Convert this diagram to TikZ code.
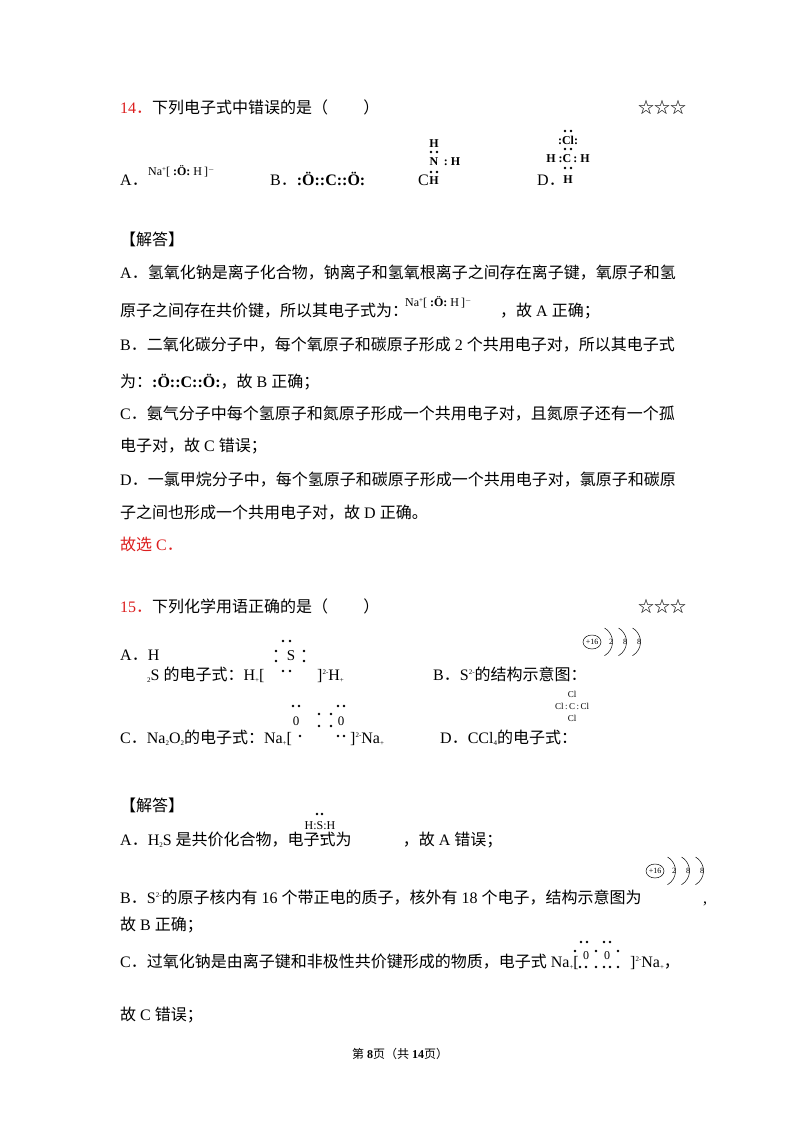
\documentclass[tikz,border=0pt]{standalone}
\usepackage{fontspec}
\setmainfont{Liberation Serif}
\newfontfamily\cjk{Noto Sans CJK SC}
\newcommand\zh[1]{{\cjk #1}}
\newcommand\pd{{\cjk ．}}
\newcommand\supx[1]{\raisebox{0.7ex}{\fontsize{7}{7}\selectfont #1}}
\newcommand\subx[1]{\raisebox{-0.3ex}{\fontsize{7}{7}\selectfont #1}}
\definecolor{qred}{RGB}{220,30,30}
\newcommand\atomdiag[2]{%
\begin{scope}[shift={(#1,#2)}]
\draw[line width=0.5pt] (0,0) ellipse (9 and 7);
\node[font=\fontsize{8}{8}\selectfont,inner sep=0] at (0,0) {+16};
\foreach \r/\n in {16/2,30/8,44/8}{
\draw[line width=0.5pt] (\r-3.5,-14) arc[start angle=-60,end angle=60,radius=16];
\node[font=\fontsize{8}{8}\selectfont,inner sep=0] at (\r+3,0) {\n};}
\end{scope}}
\newcommand\dt[2]{\fill (#1,#2) circle (1.3);}
\begin{document}
\begin{tikzpicture}[x=1pt,y=-1pt,
 t/.style={anchor=base west,inner sep=0,font=\fontsize{16}{16}\selectfont},
 s/.style={inner sep=0,font=\fontsize{12}{12}\selectfont}]
\useasboundingbox (0,0) rectangle (800,1132);
\fill[white] (0,0) rectangle (800,1132);
% Q14
\node[t] (q14) at (120,113) {\textcolor{qred}{14\pd}\zh{下列电子式中错误的是（\hspace{2.2em}）}};
\node[t] (st1) at (638,113) {\zh{☆☆☆}};
\node[t] (a) at (120,185) {A\pd};
\node[s,anchor=base west] (na1) at (148,175) {Na\supx{+}[\ \textbf{:\"O:}\ H\,]\supx{$-$}};
\node[t] (b) at (270,185) {B\pd\textbf{:\"O::C::\"O:}};
\node[t] (c) at (418,185) {C};
\node[s] (nh) at (434,144) {\textbf{H}};
\node[s] (nn) at (434,162) {\textbf{N}};
\node[s] (nr) at (452,162) {\textbf{:\ H}};
\node[s] (nb) at (434,181) {\textbf{H}};
\dt{431}{152}\dt{437}{152}\dt{431}{172}\dt{437}{172}
\node[t] (d) at (537,185) {D\pd};
\node[s] (ccl) at (568,140) {\textbf{:Cl:}};
\dt{565}{131}\dt{571}{131}\dt{565}{149}\dt{571}{149}
\node[s] (cc) at (568,159) {\textbf{H\ :C\,:\ H}};
\dt{565}{168}\dt{571}{168}
\node[s] (ch) at (568,180) {\textbf{H}};
% solution 14
\node[t] (j1) at (120,245) {\zh{【解答】}};
\node[t] (l1) at (120,278) {A\pd\zh{氢氧化钠是离子化合物，钠离子和氢氧根离子之间存在离子键，氧原子和氢}};
\node[t] (l2) at (120,316) {\zh{原子之间存在共价键，所以其电子式为：}};
\node[s,anchor=base west] (na2) at (405,306) {Na\supx{+}[\ \textbf{:\"O:}\ H\,]\supx{$-$}};
\node[t] (l2b) at (500,316) {\zh{，故} A \zh{正确；}};
\node[t] (l3) at (120,350) {B\pd\zh{二氧化碳分子中，每个氧原子和碳原子形成} 2 \zh{个共用电子对，所以其电子式}};
\node[t] (l4) at (120,387) {\zh{为：}\textbf{:\"O::C::\"O:}\zh{，故} B \zh{正确；}};
\node[t] (l5) at (120,419) {C\pd\zh{氨气分子中每个氢原子和氮原子形成一个共用电子对，且氮原子还有一个孤}};
\node[t] (l6) at (120,451) {\zh{电子对，故} C \zh{错误；}};
\node[t] (l7) at (120,485) {D\pd\zh{一氯甲烷分子中，每个氢原子和碳原子形成一个共用电子对，氯原子和碳原}};
\node[t] (l8) at (120,518) {\zh{子之间也形成一个共用电子对，故} D \zh{正确。}};
\node[t] (l9) at (120,550) {\textcolor{qred}{\zh{故选} C\pd}};
% Q15
\node[t] (q15) at (120,612) {\textcolor{qred}{15\pd}\zh{下列化学用语正确的是（\hspace{2.2em}）}};
\node[t] (st2) at (638,612) {\zh{☆☆☆}};
\node[t] (qa) at (120,660) {A\pd H};
\node[t] (qa2) at (147,680) {\subx{2}S \zh{的电子式：}H\subx{+}[};
\node[font=\fontsize{15}{15}\selectfont,inner sep=0] (sS) at (291,656) {S};
\dt{283}{641}\dt{290}{641}\dt{276}{651}\dt{276}{661}\dt{304}{651}\dt{304}{661}\dt{283}{671}\dt{290}{671}
\node[t] (qa3) at (317,680) {]\supx{2-}H\subx{+}};
\node[t] (qb) at (433,680) {B\pd S\supx{2-}\zh{的结构示意图：}};
\atomdiag{592}{642}
\node[t] (qc) at (120,743) {C\pd Na\subx{2}O\subx{2}\zh{的电子式：}Na\subx{+}[};
\node[font=\fontsize{13}{13}\selectfont,inner sep=0] (o1) at (296,721) {0};
\node[font=\fontsize{13}{13}\selectfont,inner sep=0] (o2) at (341,721) {0};
\dt{293}{706}\dt{299}{706}\dt{338}{706}\dt{344}{706}
\dt{319}{714}\dt{319}{726}\dt{331}{714}\dt{331}{726}\dt{300}{736}\dt{338}{736}\dt{344}{736}
\node[t] (qc2) at (350,743) {]\supx{2-}Na\subx{+}};
\node[t] (qd) at (440,743) {D\pd CCl\subx{4}\zh{的电子式：}};
\node[s,font=\fontsize{9}{9}\selectfont] (dcl1) at (572,694) {Cl};
\node[s,font=\fontsize{9}{9}\selectfont] (dcl2) at (572,706) {Cl\,:\,C\,:\,Cl};
\node[s,font=\fontsize{9}{9}\selectfont] (dcl3) at (572,718) {Cl};
% solution 15
\node[t] (j2) at (120,811) {\zh{【解答】}};
\node[s] (hsh) at (320,826) {H:S:H};
\dt{317}{814}\dt{322}{814}\dt{317}{836}\dt{322}{836}
\node[t] (m1) at (120,845) {A\pd H\subx{2}S \zh{是共价化合物，电子式为}\hspace{3.2em}\zh{，故} A \zh{错误；}};
\atomdiag{655}{871}
\node[t] (m2) at (120,903) {B\pd S\supx{2-}\zh{的原子核内有} 16 \zh{个带正电的质子，核外有} 18 \zh{个电子，结构示意图为}};
\node[t] (m2b) at (703,903) {,};
\node[t] (m3) at (120,930) {\zh{故} B \zh{正确；}};
\node[t] (m4) at (120,967) {C\pd\zh{过氧化钠是由离子键和非极性共价键形成的物质，电子式} Na\subx{+}[};
\begin{scope}[xshift=13]
\node[font=\fontsize{12}{12}\selectfont,inner sep=0] (p1) at (573,956) {0};
\node[font=\fontsize{12}{12}\selectfont,inner sep=0] (p2) at (594,956) {0};
\dt{568}{942}\dt{574}{942}\dt{591}{942}\dt{597}{942}
\dt{562}{951}\dt{583}{951}\dt{605}{951}\dt{567}{967}\dt{573}{967}\dt{583}{967}\dt{591}{967}\dt{597}{967}\dt{605}{967}
\end{scope}
\node[t] (m4b) at (630,967) {]\supx{2-}Na\subx{+}\zh{，}};
\node[t] (m5) at (120,1020) {\zh{故} C \zh{错误；}};
\node[anchor=base,inner sep=0,font=\fontsize{12}{12}\selectfont] (ft) at (400,1058) {\zh{第} \textbf{8}\zh{页（共} \textbf{14}\zh{页）}};
\end{tikzpicture}
\end{document}
